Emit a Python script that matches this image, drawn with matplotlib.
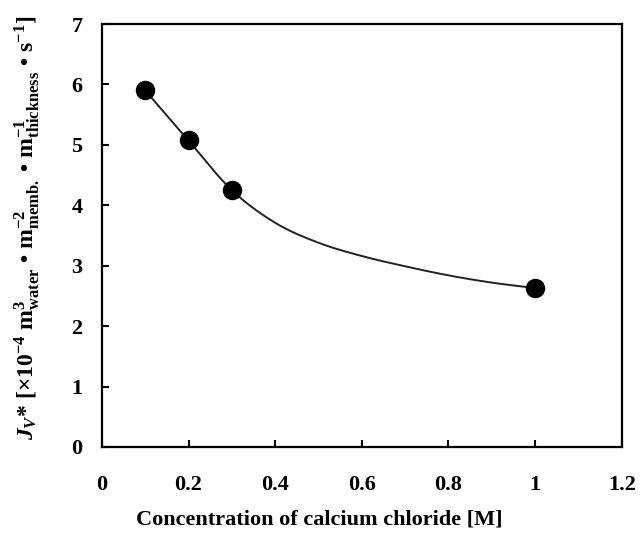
import numpy as np
import matplotlib
matplotlib.use("Agg")
import matplotlib.pyplot as plt

conc = [0.1, 0.2, 0.3, 1.0]
jv = [5.9, 5.08, 4.25, 2.63]

# trend-line readings from the picture
curve_x = [0.1, 0.2, 0.3, 0.4, 0.5, 0.6, 0.7, 0.8, 0.9, 1.0]
curve_y = [5.9, 5.07, 4.25, 3.71, 3.38, 3.16, 2.99, 2.84, 2.72, 2.63]

xticks = [0, 0.2, 0.4, 0.6, 0.8, 1, 1.2]
xticklabels = ["0", "0.2", "0.4", "0.6", "0.8", "1", "1.2"]
yticks = [0, 1, 2, 3, 4, 5, 6, 7]

plt.rcParams['font.family'] = ['Liberation Serif', 'DejaVu Serif']
plt.rcParams['font.weight'] = 'bold'
plt.rcParams['mathtext.fontset'] = 'custom'
plt.rcParams['mathtext.rm'] = 'Liberation Serif:bold'
plt.rcParams['mathtext.it'] = 'Liberation Serif:italic:bold'
plt.rcParams['mathtext.bf'] = 'Liberation Serif:bold'


def catmull(xs, ys, n=20):
    xs = np.asarray(xs, float); ys = np.asarray(ys, float)
    P = np.column_stack([xs, ys])
    P = np.vstack([2 * P[0] - P[1], P, 2 * P[-1] - P[-2]])
    out = []
    for i in range(1, len(P) - 2):
        p0, p1, p2, p3 = P[i - 1], P[i], P[i + 1], P[i + 2]
        t = np.linspace(0, 1, n, endpoint=False)[:, None]
        pt = 0.5 * ((2 * p1) + (-p0 + p2) * t + (2 * p0 - 5 * p1 + 4 * p2 - p3) * t ** 2
                    + (-p0 + 3 * p1 - 3 * p2 + p3) * t ** 3)
        out.append(pt)
    out.append(P[-2][None, :])
    out = np.vstack(out)
    return out[:, 0], out[:, 1]


fig = plt.figure(figsize=(6.41, 5.34), dpi=100)
ax = fig.add_axes([0.159, 0.163, 0.811, 0.792])

cx, cy = catmull(curve_x, curve_y)
ax.plot(cx, cy, color='#222222', lw=1.4, zorder=2)
ax.plot(conc, jv, 'o', color='black', markersize=13, zorder=3)

ax.set_xlim(0, 1.2)
ax.set_ylim(0, 7)
ax.set_xticks(xticks)
ax.set_xticklabels(xticklabels)
ax.set_yticks(yticks)

for s in ax.spines.values():
    s.set_linewidth(1.6)
ax.tick_params(direction='in', length=5, width=1.5, labelsize=16)
ax.tick_params(axis='x', pad=20)
ax.tick_params(axis='y', pad=14)
for lab in ax.get_xticklabels() + ax.get_yticklabels():
    lab.set_fontweight('bold')

ax.set_xlabel('Concentration of calcium chloride [M]', fontsize=16, fontweight='bold')
ax.xaxis.set_label_coords(0.419, -0.149)
ax.set_ylabel(r'$J_V$* [$\times$10$^{-4}$ m$^{3}_{\rm water}$ • m$^{-2}_{\rm memb.}$ • m$^{-1}_{\rm thickness}$ • s$^{-1}$]',
              fontsize=17, fontweight='bold')
ax.yaxis.set_label_coords(-0.115, 0.518)

fig.savefig('out.png', dpi=100)
